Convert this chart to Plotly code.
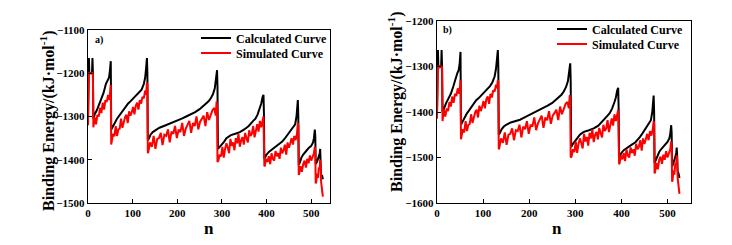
import plotly.graph_objects as go

# ---------------- data ----------------
calc_n = [0,1,2,3,6,9,10,11,12,15,20,25,30,35,40,44,47,49,51,52,55,60,65,70,75,80,85,90,95,100,
          105,110,115,120,125,128,130,132,133,134,137,140,145,150,160,170,180,190,200,210,220,230,
          240,250,260,270,275,280,284,287,289,290,291,295,300,305,310,315,320,330,340,350,360,370,
          375,380,385,388,391,393,394,395,398,400,405,410,415,420,425,430,435,440,445,450,455,460,
          464,467,469,470,471,472,475,478,482,486,490,495,500,504,506,508,509,510,513,516,519,520,
          521,522,524,526]

calc_a = [-1300,-1210,-1165,-1200,-1200,-1200,-1165,-1200,-1305,-1295,-1285,-1272,-1260,-1245,-1225,
          -1215,-1210,-1195,-1172,-1330,-1325,-1315,-1305,-1298,-1290,-1282,-1275,-1270,-1265,-1260,
          -1255,-1250,-1245,-1238,-1225,-1210,-1190,-1165,-1200,-1355,-1350,-1342,-1336,-1332,-1326,
          -1322,-1318,-1314,-1310,-1305,-1300,-1295,-1290,-1283,-1275,-1265,-1258,-1248,-1235,-1215,
          -1193,-1230,-1375,-1370,-1365,-1358,-1350,-1346,-1343,-1340,-1336,-1330,-1322,-1310,-1305,
          -1295,-1280,-1270,-1255,-1250,-1290,-1398,-1392,-1388,-1382,-1378,-1375,-1372,-1368,-1364,
          -1358,-1352,-1345,-1338,-1332,-1325,-1318,-1300,-1280,-1262,-1300,-1412,-1405,-1395,-1388,
          -1382,-1378,-1372,-1368,-1360,-1350,-1330,-1345,-1410,-1405,-1395,-1385,-1375,-1395,-1440,
          -1435,-1445]

calc_b = [-1400,-1310,-1264,-1300,-1300,-1300,-1264,-1300,-1400,-1392,-1380,-1370,-1360,-1345,-1325,
          -1315,-1308,-1295,-1268,-1428,-1422,-1412,-1403,-1396,-1388,-1380,-1374,-1370,-1365,-1360,
          -1355,-1350,-1343,-1335,-1322,-1305,-1285,-1264,-1300,-1450,-1445,-1438,-1432,-1428,-1423,
          -1420,-1417,-1412,-1407,-1402,-1397,-1392,-1386,-1380,-1372,-1362,-1355,-1345,-1332,-1312,
          -1293,-1330,-1477,-1470,-1463,-1456,-1450,-1446,-1443,-1440,-1436,-1430,-1420,-1408,-1402,
          -1392,-1378,-1368,-1352,-1347,-1390,-1500,-1494,-1490,-1484,-1480,-1476,-1473,-1470,-1467,
          -1462,-1455,-1448,-1440,-1433,-1425,-1418,-1400,-1380,-1364,-1400,-1512,-1505,-1496,-1488,
          -1482,-1477,-1472,-1466,-1458,-1448,-1429,-1445,-1520,-1512,-1502,-1490,-1478,-1495,-1530,
          -1535,-1545]

sim_n = [0,1,2,4,6,8,10,11,
         12,15,18,21,24,27,30,33,36,39,42,45,48,50,51,
         52,
         53,56,59,62,65,68,71,74,77,80,83,86,89,92,95,98,101,104,107,110,113,116,119,122,125,128,130,132,133,
         134,
         135,139,143,147,151,155,159,163,167,171,175,179,183,187,191,195,199,203,207,211,215,219,223,227,231,
         235,239,243,247,251,255,259,263,267,271,275,279,283,286,288,289,
         290,
         292,295,298,301,304,307,310,313,316,319,322,325,328,331,334,337,340,343,346,349,352,355,358,361,364,
         367,370,373,376,379,382,385,388,391,393,
         395,
         396,399,402,405,408,411,414,417,420,423,426,429,432,435,438,441,444,447,450,453,456,459,462,465,468,470,471,
         472,
         473,476,479,482,485,488,491,494,497,500,503,506,508,509,
         510,
         511,513,515,517,519,520,521,
         522,524,526]

sim_a = [-1320,-1250,-1200,-1200,-1200,-1200,-1200,-1205,
         -1325,-1302,-1318,-1296,-1300,-1280,-1292,-1268,-1284,-1262,-1266,-1250,-1262,-1238,-1227,
         -1365,
         -1358,-1340,-1346,-1322,-1345,-1330,-1328,-1305,-1326,-1312,
         -1302,-1296,-1315,-1288,-1298,-1290,-1278,-1295,-1275,-1268,
         -1284,-1262,-1270,-1255,-1258,-1240,-1250,-1222,-1225,
         -1385,
         -1382,-1360,-1370,-1345,-1375,-1352,-1350,-1338,-1366,-1342,
         -1345,-1330,-1360,-1335,-1340,-1322,-1350,-1330,-1336,-1315,
         -1345,-1328,-1318,-1310,-1338,-1315,-1322,-1300,-1330,-1312,
         -1305,-1298,-1322,-1290,-1308,-1295,-1285,-1280,-1298,-1265,-1275,
         -1405,
         -1402,-1388,-1392,-1370,-1395,-1375,-1362,-1372,-1385,-1352,
         -1368,-1360,-1378,-1350,-1362,-1340,-1370,-1355,-1348,-1365,
         -1338,-1350,-1360,-1332,-1345,-1340,-1322,-1348,-1330,-1318,
         -1335,-1310,-1325,-1305,-1300,
         -1415,
         -1414,-1398,-1405,-1392,-1410,-1385,-1398,-1402,-1380,-1392,
         -1385,-1398,-1372,-1385,-1378,-1365,-1388,-1360,-1372,-1362,
         -1350,-1365,-1345,-1355,-1340,-1315,-1320,
         -1435,
         -1433,-1415,-1428,-1410,-1402,-1418,-1398,-1408,-1390,-1402,-1395,-1385,-1370,-1380,
         -1455,
         -1452,-1432,-1442,-1418,-1420,-1400,-1410,
         -1450,-1465,-1485]

sim_b = [-1415,-1340,-1300,-1300,-1302,-1300,-1300,-1305,
         -1420,-1395,-1410,-1392,-1398,-1378,-1388,-1366,-1380,-1360,-1365,-1348,-1360,-1342,-1330,
         -1460,
         -1456,-1438,-1445,-1420,-1442,-1428,-1426,-1405,-1424,-1410,
         -1400,-1395,-1412,-1386,-1398,-1388,-1376,-1392,-1372,-1366,
         -1382,-1360,-1368,-1352,-1355,-1340,-1348,-1330,-1333,
         -1482,
         -1480,-1458,-1468,-1445,-1472,-1450,-1448,-1436,-1462,-1440,
         -1442,-1428,-1456,-1432,-1438,-1420,-1448,-1428,-1432,-1412,
         -1440,-1425,-1415,-1408,-1435,-1412,-1418,-1398,-1426,-1408,
         -1402,-1395,-1418,-1388,-1405,-1392,-1382,-1378,-1392,-1363,-1372,
         -1500,
         -1498,-1482,-1488,-1465,-1490,-1470,-1458,-1468,-1480,-1448,
         -1465,-1455,-1474,-1446,-1458,-1438,-1466,-1450,-1444,-1460,
         -1435,-1446,-1456,-1428,-1442,-1436,-1418,-1444,-1426,-1414,
         -1430,-1405,-1420,-1400,-1395,
         -1515,
         -1513,-1496,-1504,-1490,-1508,-1482,-1496,-1500,-1478,-1490,
         -1482,-1496,-1470,-1482,-1476,-1462,-1485,-1458,-1470,-1460,
         -1448,-1462,-1442,-1452,-1438,-1420,-1425,
         -1535,
         -1532,-1512,-1526,-1505,-1498,-1514,-1494,-1505,-1486,-1500,-1492,-1482,-1465,-1478,
         -1553,
         -1550,-1528,-1538,-1512,-1515,-1495,-1505,
         -1545,-1560,-1580]

x_ticks = [0, 100, 200, 300, 400, 500]
y_ticks_a = [-1500, -1400, -1300, -1200, -1100]
y_ticks_b = [-1600, -1500, -1400, -1300, -1200]

assert len(calc_n) == len(calc_a) == len(calc_b), (len(calc_n), len(calc_a), len(calc_b))
assert len(sim_n) == len(sim_a) == len(sim_b), (len(sim_n), len(sim_a), len(sim_b))

# ---------------- figure ----------------
W, H = 732, 245
OFF = 8  # page body margin: the figure is drawn 8 px right and down in the window
FONT = "Times New Roman, Liberation Serif, serif"

def px_x(p):
    return (p - OFF) / W

def px_y(p):
    return 1 - (p - OFF) / H

fig = go.Figure()

fig.add_trace(go.Scatter(x=calc_n, y=calc_a, mode="lines", name="Calculated Curve",
                         line=dict(color="#000000", width=2), xaxis="x", yaxis="y", legend="legend"))
fig.add_trace(go.Scatter(x=sim_n, y=sim_a, mode="lines", name="Simulated Curve",
                         line=dict(color="#ff0000", width=2), xaxis="x", yaxis="y", legend="legend2"))
fig.add_trace(go.Scatter(x=calc_n, y=calc_b, mode="lines", name="Calculated Curve",
                         line=dict(color="#000000", width=2), xaxis="x2", yaxis="y2", legend="legend3"))
fig.add_trace(go.Scatter(x=sim_n, y=sim_b, mode="lines", name="Simulated Curve",
                         line=dict(color="#ff0000", width=2), xaxis="x2", yaxis="y2", legend="legend4"))

tickfont = dict(family=FONT, size=11, color="#000", weight="bold")
common = dict(showline=True, linecolor="#000", linewidth=1.4, mirror=True, ticks="inside",
              ticklen=4, tickwidth=1.2, tickcolor="#000", showgrid=False, zeroline=False,
              tickfont=tickfont, automargin=False)

legfont = dict(family=FONT, size=12, color="#000", weight="bold")

def leg(xpx, ypx):
    return dict(x=px_x(xpx), y=px_y(ypx), xanchor="left", yanchor="middle",
                bgcolor="rgba(0,0,0,0)", font=legfont, borderwidth=0)

fig.update_layout(
    width=W, height=H,
    margin=dict(l=0, r=0, t=0, b=0, pad=0, autoexpand=False),
    paper_bgcolor="white", plot_bgcolor="white",
    xaxis=dict(domain=[px_x(88), px_x(330)], range=[0, 542], tickvals=x_ticks, anchor="y", **common),
    yaxis=dict(domain=[px_y(203), px_y(30)], range=[-1500, -1100], tickvals=y_ticks_a, anchor="x", **common),
    xaxis2=dict(domain=[px_x(437), px_x(691)], range=[0, 551], tickvals=x_ticks, anchor="y2", **common),
    yaxis2=dict(domain=[px_y(203), px_y(21)], range=[-1600, -1200], tickvals=y_ticks_b, anchor="x2", **common),
    legend=leg(196, 38),
    legend2=leg(196, 53),
    legend3=leg(552, 29),
    legend4=leg(552, 44),
    showlegend=True,
)

title_font = dict(family=FONT, size=16, color="#000", weight="bold")
ytitle = "Binding Energy/(kJ·mol<sup>-1</sup>)"
annos = [
    dict(text=ytitle, x=px_x(47), y=px_y(121), textangle=-90, font=title_font),
    dict(text=ytitle, x=px_x(396), y=px_y(102), textangle=-90, font=title_font),
    dict(text="n", x=px_x(209), y=px_y(228), font=dict(family=FONT, size=17, color="#000", weight="bold")),
    dict(text="n", x=px_x(557), y=px_y(228), font=dict(family=FONT, size=17, color="#000", weight="bold")),
    dict(text="a)", x=px_x(93), y=px_y(40), xanchor="left",
         font=dict(family=FONT, size=10, color="#000", weight="bold")),
    dict(text="b)", x=px_x(441), y=px_y(30), xanchor="left",
         font=dict(family=FONT, size=10, color="#000", weight="bold")),
]
for a in annos:
    a.setdefault("xanchor", "center")
    a.update(xref="paper", yref="paper", showarrow=False, yanchor="middle")
fig.update_layout(annotations=annos)

fig.write_html("out.html")
